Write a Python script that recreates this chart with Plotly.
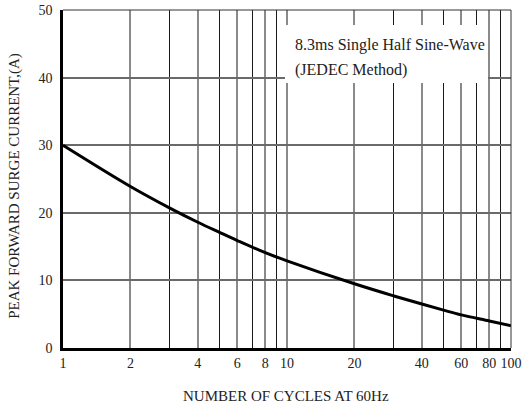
import plotly.graph_objects as go

cycles = [1, 2, 3, 4, 5, 6, 8, 10, 20, 30, 40, 50, 60, 80, 100]
current = [30.0, 23.9, 20.7, 18.6, 17.1, 15.9, 14.1, 12.9, 9.5, 7.7, 6.5, 5.6, 4.9, 4.0, 3.3]

x_tickvals = [1, 2, 4, 6, 8, 10, 20, 40, 60, 80, 100]
x_ticktext = ["1", "2", "4", "6", "8", "10", "20", "40", "60", "80", "100"]
x_minor_vals = [3, 5, 7, 9, 30, 50, 70, 90]
y_tickvals = [0, 10, 20, 30, 40, 50]

x_title = "NUMBER OF CYCLES AT 60Hz"
y_title = "PEAK FORWARD SURGE CURRENT,(A)"
note_line1 = "8.3ms Single Half Sine-Wave"
note_line2 = "(JEDEC Method)"

FONT = "Liberation Serif, Times New Roman, serif"
TXT = "#222"

fig = go.Figure()
fig.add_trace(go.Scatter(
    x=cycles, y=current, mode="lines",
    line=dict(color="black", width=3, shape="spline", smoothing=1.0),
    hoverinfo="skip", showlegend=False,
))

fig.update_layout(
    width=529, height=405,
    margin=dict(l=63, r=18, t=10, b=57, autoexpand=False),
    paper_bgcolor="white", plot_bgcolor="white",
    font=dict(family=FONT, color=TXT, size=14),
    xaxis=dict(
        type="log", range=[0, 2], automargin=False,
        tickmode="array", tickvals=x_tickvals, ticktext=x_ticktext,
        showgrid=True, gridcolor="#8a8a8a", gridwidth=1.5,
        minor=dict(tickmode="array", tickvals=x_minor_vals, showgrid=True,
                   gridcolor="#1a1a1a", gridwidth=1, ticks=""),
        showline=True, linecolor="black", linewidth=2.5,
        ticks="", zeroline=False,
        tickfont=dict(size=14, family=FONT, color=TXT),
    ),
    yaxis=dict(
        range=[0, 50], automargin=False,
        tickmode="array", tickvals=y_tickvals,
        showgrid=True, gridcolor="#6a6a6a", gridwidth=1.5,
        showline=True, linecolor="black", linewidth=2.5,
        ticks="", zeroline=False, ticklabelstandoff=5,
        tickfont=dict(size=14, family=FONT, color=TXT),
    ),
)

# axis titles
fig.add_annotation(xref="paper", yref="paper", x=0.498, y=-0.142, xanchor="center", yanchor="middle",
                   text=x_title, showarrow=False, font=dict(size=15, family=FONT, color=TXT))
fig.add_annotation(xref="paper", yref="paper", x=-0.107, y=0.48, xanchor="center", yanchor="middle",
                   text=y_title, textangle=-90, showarrow=False, font=dict(size=15, family=FONT, color=TXT))

# thin top and right frame
fig.add_shape(type="line", xref="paper", yref="paper", x0=0, x1=1, y0=1, y1=1,
              line=dict(color="#333", width=1))
fig.add_shape(type="line", xref="paper", yref="paper", x0=1, x1=1, y0=0, y1=1,
              line=dict(color="#333", width=1))

# white box behind the note
fig.add_shape(type="rect", xref="paper", yref="paper", x0=0.4955, x1=0.9487, y0=0.784, y1=0.9556,
              line=dict(width=0), fillcolor="white", layer="above")
fig.add_annotation(xref="paper", yref="paper", x=0.513, y=0.896, xanchor="left", yanchor="middle",
                   text=note_line1, showarrow=False, font=dict(size=16, family=FONT, color=TXT))
fig.add_annotation(xref="paper", yref="paper", x=0.513, y=0.822, xanchor="left", yanchor="middle",
                   text=note_line2, showarrow=False, font=dict(size=16, family=FONT, color=TXT))

# remove the default 8px page margin so the figure fills the window exactly
fig.write_html("out.html", config={"displayModeBar": False},
               post_script="document.body.style.margin='0';")
